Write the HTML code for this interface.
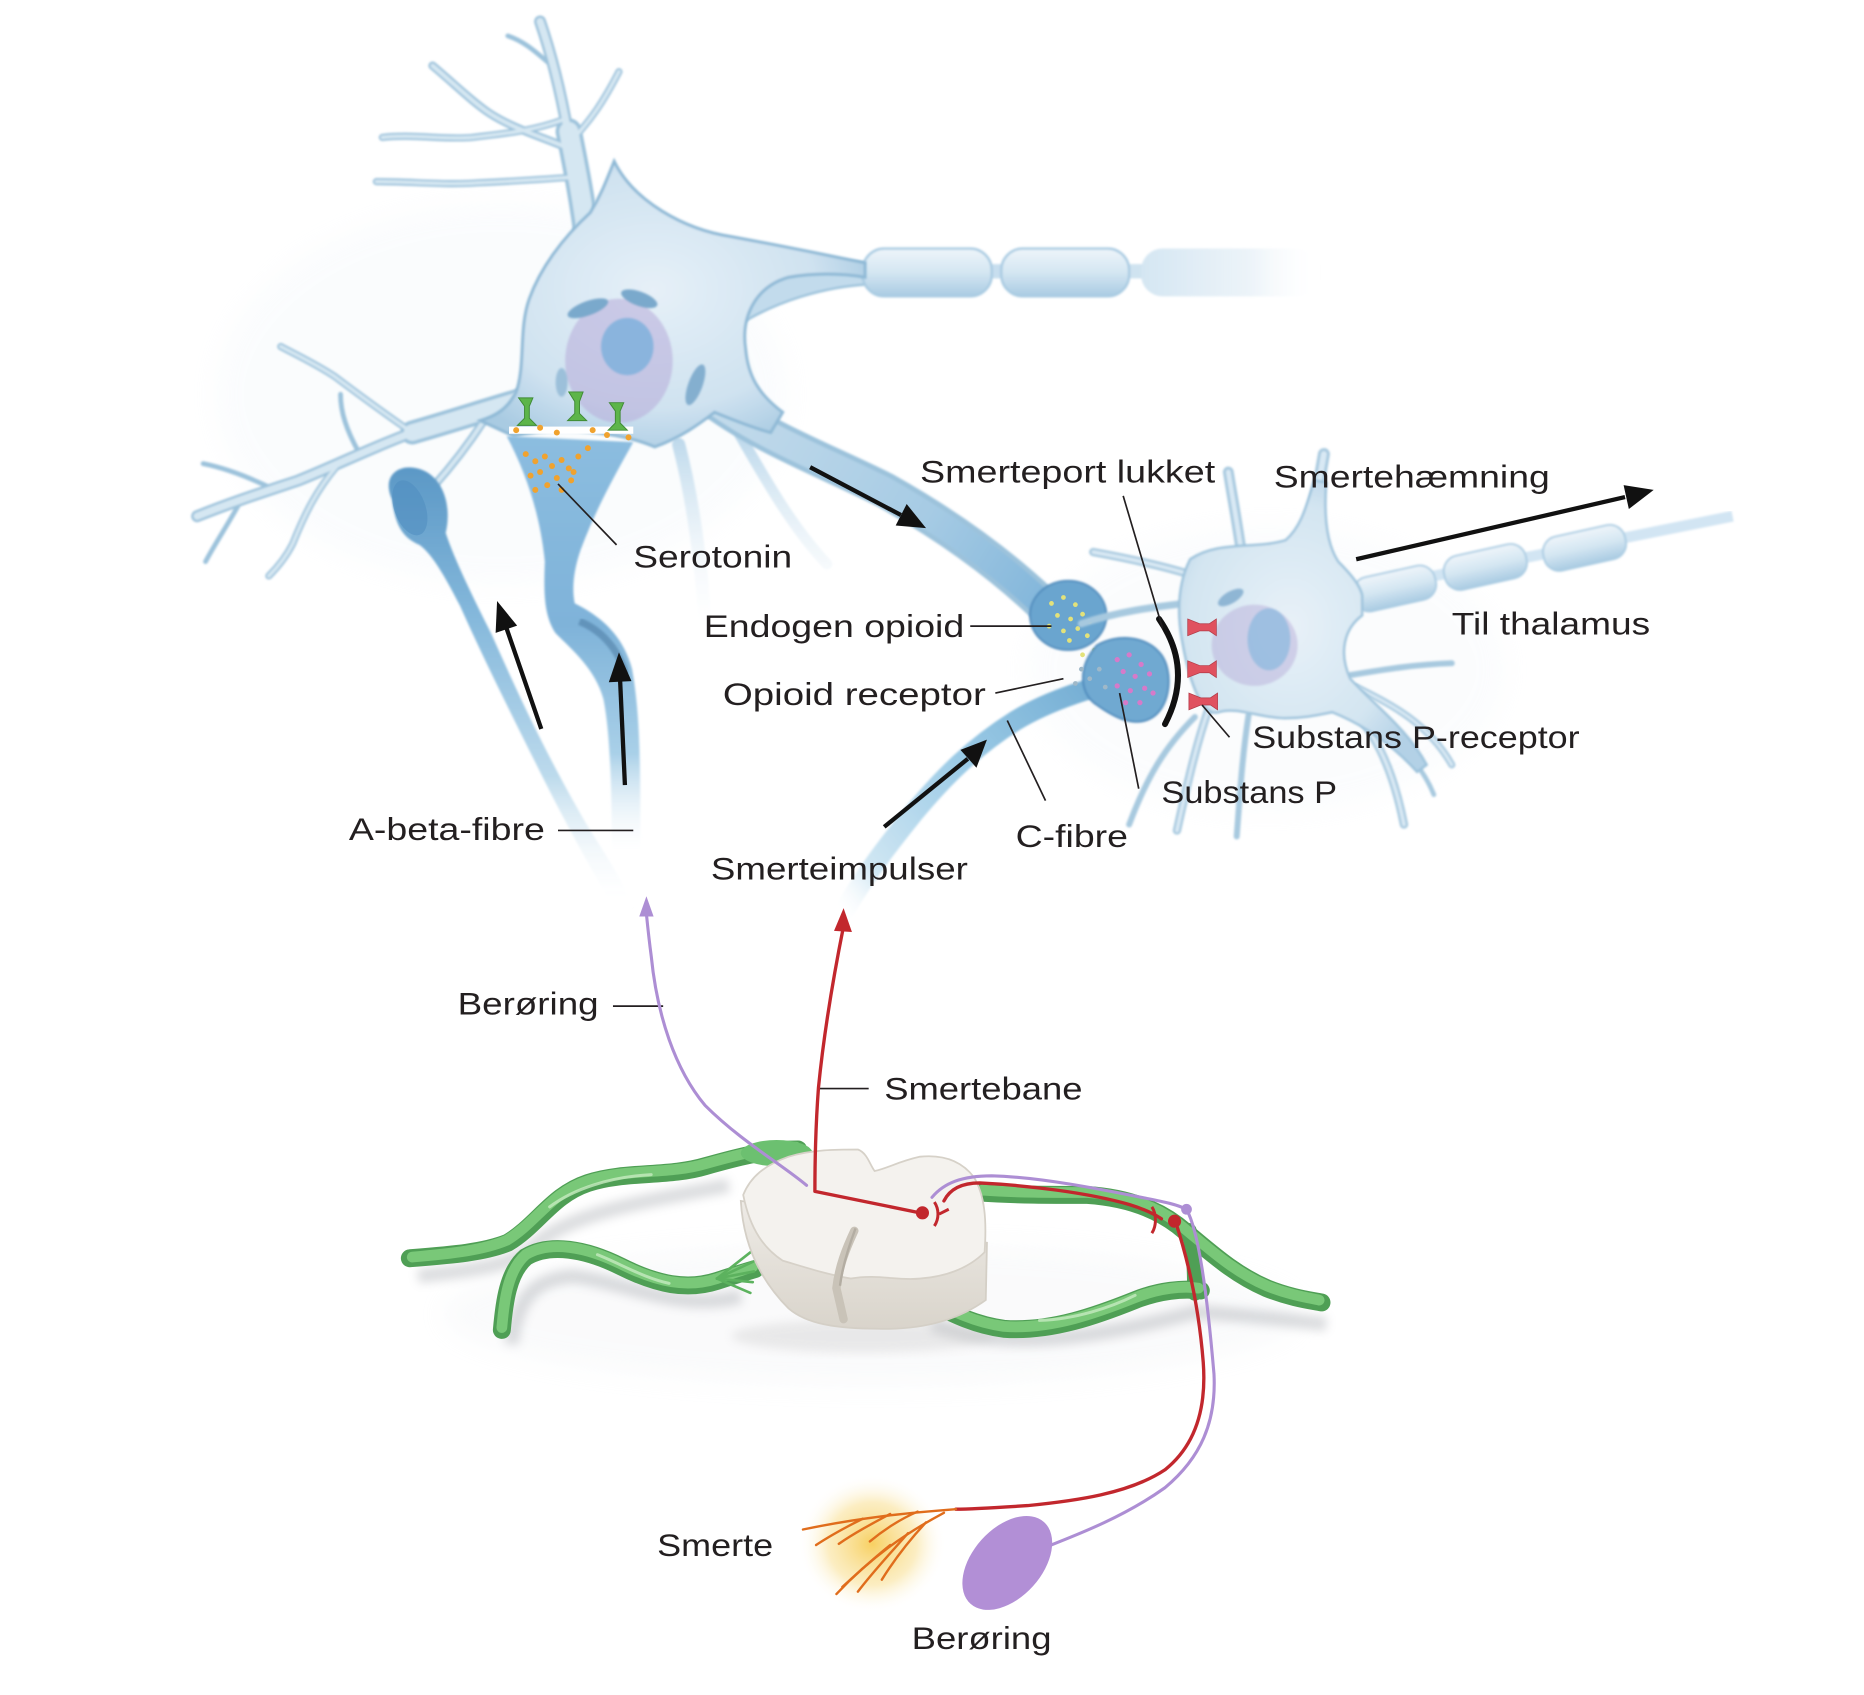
<!DOCTYPE html>
<html><head><meta charset="utf-8">
<style>
html,body{margin:0;padding:0;background:#fff;}
svg{display:block;}
text{font-family:"Liberation Sans",sans-serif;font-size:26px;fill:#231f20;}
</style></head>
<body>
<svg width="1864" height="1695" viewBox="0 0 1560 1418.5" preserveAspectRatio="none" xmlns="http://www.w3.org/2000/svg">
<defs>
  <filter id="soft" x="-5%" y="-5%" width="110%" height="110%"><feGaussianBlur stdDeviation="0.8"/></filter>
  <filter id="blur4" x="-20%" y="-20%" width="140%" height="140%"><feGaussianBlur stdDeviation="4"/></filter>
  <filter id="blur10" x="-50%" y="-50%" width="200%" height="200%"><feGaussianBlur stdDeviation="10"/></filter>
  <radialGradient id="soma1" cx="0.45" cy="0.45" r="0.6">
    <stop offset="0" stop-color="#e6f0f8"/><stop offset="0.7" stop-color="#cfe2f0"/><stop offset="1" stop-color="#a9cbe2"/>
  </radialGradient>
  <radialGradient id="soma2" cx="0.45" cy="0.5" r="0.6">
    <stop offset="0" stop-color="#e8f1f8"/><stop offset="0.7" stop-color="#d3e5f1"/><stop offset="1" stop-color="#b3d1e6"/>
  </radialGradient>
  <linearGradient id="gA" gradientUnits="userSpaceOnUse" x1="0" y1="390" x2="0" y2="760">
    <stop offset="0" stop-color="#5b98c6"/><stop offset="0.35" stop-color="#86b9dc"/><stop offset="0.7" stop-color="#bcdaec"/><stop offset="1" stop-color="#ffffff" stop-opacity="0"/>
  </linearGradient>
  <linearGradient id="gS" gradientUnits="userSpaceOnUse" x1="0" y1="362" x2="0" y2="720">
    <stop offset="0" stop-color="#8cbde0"/><stop offset="0.45" stop-color="#7fb3d9"/><stop offset="0.75" stop-color="#a9d0e8"/><stop offset="1" stop-color="#ffffff" stop-opacity="0"/>
  </linearGradient>
  <linearGradient id="gC" gradientUnits="userSpaceOnUse" x1="950" y1="566" x2="700" y2="765">
    <stop offset="0" stop-color="#6aa6cf"/><stop offset="0.5" stop-color="#9ccbe6"/><stop offset="0.85" stop-color="#cfe6f3"/><stop offset="1" stop-color="#ffffff" stop-opacity="0"/>
  </linearGradient>
  <linearGradient id="gD" gradientUnits="userSpaceOnUse" x1="600" y1="340" x2="880" y2="515">
    <stop offset="0" stop-color="#c3dbeb"/><stop offset="0.6" stop-color="#a6cbe4"/><stop offset="1" stop-color="#7fb4da"/>
  </linearGradient>
  <linearGradient id="myel" x1="0" y1="0" x2="0" y2="1">
    <stop offset="0" stop-color="#eef5fa"/><stop offset="0.5" stop-color="#d4e6f2"/><stop offset="1" stop-color="#a9cbe2"/>
  </linearGradient>
  <linearGradient id="myelFade" x1="0" y1="0" x2="1" y2="0">
    <stop offset="0" stop-color="#d4e6f2"/><stop offset="0.6" stop-color="#e3eef6" stop-opacity="0.7"/><stop offset="1" stop-color="#ffffff" stop-opacity="0"/>
  </linearGradient>
  <linearGradient id="fadeDown" gradientUnits="userSpaceOnUse" x1="0" y1="360" x2="0" y2="540">
    <stop offset="0" stop-color="#b9d6ea"/><stop offset="1" stop-color="#ffffff" stop-opacity="0"/>
  </linearGradient>
  <radialGradient id="glow" cx="0.5" cy="0.5" r="0.5">
    <stop offset="0" stop-color="#f6c847" stop-opacity="0.85"/><stop offset="0.6" stop-color="#f8dc86" stop-opacity="0.5"/><stop offset="1" stop-color="#ffffff" stop-opacity="0"/>
  </radialGradient>
  <linearGradient id="cordSide" x1="0" y1="0" x2="0" y2="1">
    <stop offset="0" stop-color="#eeebe6"/><stop offset="1" stop-color="#d9d4cb"/>
  </linearGradient>
</defs>

<!-- faint haze -->
<g opacity="0.15" filter="url(#blur10)">
  <ellipse cx="420" cy="330" rx="240" ry="160" fill="#e3edf5"/>
  <ellipse cx="1060" cy="560" rx="200" ry="120" fill="#e6eef5"/>
  <ellipse cx="730" cy="1100" rx="360" ry="60" fill="#dfe3e8"/>
</g>

<!-- ============ NEURON 1 ============ -->
<g filter="url(#soft)" stroke-linecap="round" fill="none">
  <g stroke="#9cc2db">
    <path d="M492,205 C488,170 482,140 476,110" stroke-width="22"/>
    <path d="M476,115 C470,80 463,50 452,18" stroke-width="10"/>
    <path d="M478,125 C455,115 430,108 410,95 C395,85 380,70 362,55" stroke-width="7"/>
    <path d="M472,100 C445,110 420,112 395,115 C370,117 345,112 320,115" stroke-width="6"/>
    <path d="M484,148 C455,150 425,152 400,153 C375,155 345,152 315,152" stroke-width="6"/>
    <path d="M478,118 C495,100 505,85 518,60" stroke-width="6"/>
    <path d="M462,55 C450,45 440,35 425,30" stroke-width="4"/>
    <path d="M445,332 C410,342 380,352 345,362" stroke-width="20"/>
    <path d="M345,362 C310,375 280,390 250,402 C220,412 195,420 165,432" stroke-width="10"/>
    <path d="M345,362 C320,345 300,330 280,315 C265,305 250,298 235,290" stroke-width="6"/>
    <path d="M282,390 C265,410 255,430 245,455 C240,465 232,475 225,482" stroke-width="6"/>
    <path d="M230,410 C210,400 190,392 170,388" stroke-width="4"/>
    <path d="M200,422 C190,440 180,455 172,470" stroke-width="4"/>
    <path d="M300,378 C290,360 285,345 285,330" stroke-width="4"/>
    <path d="M405,352 C392,372 378,390 362,408" stroke-width="7"/>
    <path d="M568,372 C578,410 586,460 590,520" stroke-width="11" stroke="url(#fadeDown)"/>
    <path d="M618,362 C640,400 662,440 692,472" stroke-width="9" stroke="url(#fadeDown)"/>
    <path d="M590,330 C635,365 690,385 740,410 C790,438 835,470 872,505" stroke-width="30"/>
  </g>
  <g stroke="#d5e7f2">
    <path d="M492,205 C488,170 482,140 476,110" stroke-width="16"/>
    <path d="M476,115 C470,80 463,50 452,18" stroke-width="6"/>
    <path d="M478,125 C455,115 430,108 410,95 C395,85 380,70 362,55" stroke-width="3.5"/>
    <path d="M472,100 C445,110 420,112 395,115 C370,117 345,112 320,115" stroke-width="3"/>
    <path d="M484,148 C455,150 425,152 400,153 C375,155 345,152 315,152" stroke-width="3"/>
    <path d="M478,118 C495,100 505,85 518,60" stroke-width="3"/>
    <path d="M445,332 C410,342 380,352 345,362" stroke-width="14"/>
    <path d="M345,362 C310,375 280,390 250,402 C220,412 195,420 165,432" stroke-width="6"/>
    <path d="M345,362 C320,345 300,330 280,315 C265,305 250,298 235,290" stroke-width="3"/>
    <path d="M282,390 C265,410 255,430 245,455 C240,465 232,475 225,482" stroke-width="3"/>
    <path d="M405,352 C392,372 378,390 362,408" stroke-width="3.5"/>
    <path d="M590,330 C635,365 690,385 740,410 C790,438 835,470 872,505" stroke-width="22" stroke="url(#gD)"/>
  </g>
</g>

<!-- axon of neuron 1 -->
<g filter="url(#soft)">
  <path d="M600,198 C640,205 690,218 726,220 L726,238 C690,240 650,252 618,272 Z" fill="#c2dbec" stroke="#9cc2db" stroke-width="2"/>
  <rect x="826" y="221" width="16" height="12" fill="#c7deee"/>
  <rect x="722" y="208" width="108" height="40" rx="18" fill="url(#myel)" stroke="#a9cbe2" stroke-width="2"/>
  <rect x="945" y="221" width="14" height="12" fill="#cfe3f0"/>
  <rect x="838" y="208" width="107" height="40" rx="18" fill="url(#myel)" stroke="#a9cbe2" stroke-width="2"/>
  <rect x="955" y="208" width="150" height="40" rx="18" fill="url(#myelFade)"/>
</g>

<!-- soma 1 -->
<path filter="url(#soft)" d="M494,178 C470,200 452,225 443,250 C434,275 440,305 432,328 C425,342 415,348 402,352 L430,365 C470,356 520,362 548,374 C570,366 585,355 598,345 C615,352 630,358 645,362 L655,345 C635,330 626,315 624,292 C620,265 632,240 660,232 C690,227 712,230 724,232 L724,220 C690,213 650,205 612,198 C572,192 530,168 514,135 C506,155 502,165 494,178 Z" fill="url(#soma1)" stroke="#8fb9d6" stroke-width="2.5"/>
<g filter="url(#soft)">
  <ellipse cx="518" cy="302" rx="45" ry="52" fill="#b6acd9" opacity="0.55"/>
  <ellipse cx="525" cy="290" rx="22" ry="24" fill="#7fb2dc" opacity="0.85"/>
  <ellipse cx="492" cy="258" rx="18" ry="6" transform="rotate(-20 492 258)" fill="#7aa9cc"/>
  <ellipse cx="535" cy="250" rx="16" ry="6" transform="rotate(20 535 250)" fill="#7aa9cc"/>
  <ellipse cx="582" cy="322" rx="6" ry="18" transform="rotate(20 582 322)" fill="#84afcf"/>
  <ellipse cx="470" cy="320" rx="5" ry="12" fill="#9cc0da"/>
</g>

<!-- A-beta terminal (club) -->
<path filter="url(#soft)" d="M328,418 C318,395 338,386 355,394 C372,402 378,425 373,446 C381,470 396,500 411,530 C431,575 456,630 491,690 C506,715 521,735 531,762 L514,762 C495,727 475,692 455,652 C430,602 405,552 385,507 C372,482 362,464 351,456 C337,450 331,440 328,418 Z" fill="url(#gA)"/>
<ellipse cx="343" cy="425" rx="13" ry="24" transform="rotate(-20 343 425)" fill="#4e8cbf" opacity="0.55"/>

<!-- serotonin terminal -->
<path filter="url(#soft)" d="M424,365 L530,370 C516,395 499,425 486,460 C479,480 479,495 481,505 C501,515 521,530 529,560 C536,600 536,640 536,712 L512,712 C512,650 510,610 505,585 C498,560 480,545 465,530 C455,515 455,495 456,470 C452,430 440,395 424,365 Z" fill="url(#gS)"/>
<path d="M485,520 C505,528 518,545 524,565" stroke="#3f6e96" stroke-width="6" fill="none" opacity="0.45" filter="url(#soft)"/>
<rect x="426" y="357" width="104" height="6" fill="#ffffff"/>
<g fill="#5db54a" stroke="#3f8a35" stroke-width="0.8">
  <path d="M434,333 L446,333 L443,340 L443,350 L449,356 L433,356 L439,350 L439,340 Z"/>
  <path d="M476,328 L488,328 L485,336 L485,346 L491,352 L475,352 L481,346 L481,336 Z"/>
  <path d="M510,337 L522,337 L519,344 L519,354 L525,360 L509,360 L515,354 L515,344 Z"/>
</g>
<g fill="#f0a22e">
  <circle cx="432" cy="360" r="2.5"/><circle cx="452" cy="358" r="2.5"/><circle cx="466" cy="362" r="2.5"/><circle cx="496" cy="360" r="2.5"/><circle cx="508" cy="364" r="2.5"/><circle cx="526" cy="366" r="2.5"/>
  <circle cx="440" cy="380" r="2.5"/><circle cx="448" cy="386" r="2.5"/><circle cx="456" cy="382" r="2.5"/><circle cx="462" cy="390" r="2.5"/><circle cx="470" cy="385" r="2.5"/><circle cx="476" cy="392" r="2.5"/><circle cx="452" cy="395" r="2.5"/><circle cx="444" cy="398" r="2.5"/><circle cx="466" cy="400" r="2.5"/><circle cx="478" cy="402" r="2.5"/><circle cx="458" cy="406" r="2.5"/><circle cx="470" cy="410" r="2.5"/><circle cx="484" cy="382" r="2.5"/><circle cx="492" cy="375" r="2.5"/><circle cx="448" cy="410" r="2.5"/><circle cx="480" cy="395" r="2.5"/>
</g>

<!-- Endogen opioid terminal -->
<ellipse cx="894" cy="515" rx="32" ry="29" fill="#6ba5cf" stroke="#4d89bb" stroke-width="1.5" filter="url(#soft)"/>
<g fill="#e3e27a">
  <circle cx="880" cy="505" r="2"/><circle cx="890" cy="500" r="2"/><circle cx="900" cy="506" r="2"/><circle cx="885" cy="515" r="2"/><circle cx="896" cy="518" r="2"/><circle cx="906" cy="514" r="2"/><circle cx="878" cy="524" r="2"/><circle cx="890" cy="528" r="2"/><circle cx="902" cy="526" r="2"/><circle cx="912" cy="520" r="2"/><circle cx="895" cy="536" r="2"/><circle cx="910" cy="532" r="2"/><circle cx="916" cy="544" r="2"/><circle cx="924" cy="540" r="2"/><circle cx="906" cy="548" r="2"/><circle cx="918" cy="554" r="2"/>
</g>

<!-- C-fibre -->
<path filter="url(#soft)" d="M950,566 C915,575 880,585 850,603 C815,625 790,650 765,680 C745,705 725,730 705,765" stroke="url(#gC)" stroke-width="17" fill="none" stroke-linecap="round"/>
<path filter="url(#soft)" d="M918,540 C935,530 960,532 972,548 C982,562 980,590 965,600 C950,610 932,600 918,590 C905,582 900,560 918,540 Z" fill="#6fa9d1" stroke="#4d89bb" stroke-width="1.5"/>
<g fill="#d67ac9">
  <circle cx="935" cy="552" r="2.2"/><circle cx="945" cy="548" r="2.2"/><circle cx="955" cy="556" r="2.2"/><circle cx="940" cy="562" r="2.2"/><circle cx="950" cy="566" r="2.2"/><circle cx="962" cy="564" r="2.2"/><circle cx="935" cy="574" r="2.2"/><circle cx="946" cy="578" r="2.2"/><circle cx="958" cy="576" r="2.2"/><circle cx="942" cy="588" r="2.2"/><circle cx="954" cy="588" r="2.2"/><circle cx="965" cy="580" r="2.2"/>
</g>
<g fill="#9fb8c8">
  <circle cx="905" cy="560" r="2"/><circle cx="912" cy="568" r="2"/><circle cx="920" cy="560" r="2"/><circle cx="900" cy="572" r="2"/><circle cx="925" cy="575" r="2"/>
</g>

<!-- ============ NEURON 2 ============ -->
<g filter="url(#soft)" stroke-linecap="round" fill="none">
  <g stroke="#a7c9df">
    <path d="M1040,470 C1036,440 1032,420 1028,395" stroke-width="9"/>
    <path d="M1095,440 C1100,420 1104,405 1108,380" stroke-width="10"/>
    <path d="M1000,482 C975,474 948,468 915,462" stroke-width="7"/>
    <path d="M992,505 C965,508 935,512 905,522" stroke-width="6"/>
    <path d="M1012,592 C1002,620 995,650 985,695" stroke-width="7"/>
    <path d="M1045,598 C1040,630 1038,660 1035,700" stroke-width="5"/>
    <path d="M1120,580 C1150,610 1165,640 1175,690" stroke-width="7"/>
    <path d="M1135,575 C1165,590 1195,605 1215,640" stroke-width="6"/>
    <path d="M1130,565 C1160,560 1185,556 1215,555" stroke-width="5"/>
    <path d="M1150,610 C1170,620 1190,640 1200,665" stroke-width="4"/>
    <path d="M1000,600 C975,625 960,650 945,690" stroke-width="5"/>
  </g>
  <g stroke="#d9e9f4">
    <path d="M1040,470 C1036,440 1032,420 1028,395" stroke-width="4"/>
    <path d="M1095,440 C1100,420 1104,405 1108,380" stroke-width="5"/>
    <path d="M1000,482 C975,474 948,468 915,462" stroke-width="3"/>
    <path d="M1012,592 C1002,620 995,650 985,695" stroke-width="3"/>
    <path d="M1120,580 C1150,610 1165,640 1175,690" stroke-width="3"/>
    <path d="M1135,575 C1165,590 1195,605 1215,640" stroke-width="2.5"/>
  </g>
</g>
<g filter="url(#soft)">
  <path d="M1110,500 L1450,432" stroke="#c7def0" stroke-width="9" fill="none" opacity="0.8"/>
  <g transform="rotate(-12.5 1167 492)"><rect x="1132" y="478" width="70" height="29" rx="13" fill="url(#myel)" stroke="#a9cbe2" stroke-width="1.5"/></g>
  <g transform="rotate(-12.5 1243 474)"><rect x="1208" y="460" width="70" height="29" rx="13" fill="url(#myel)" stroke="#a9cbe2" stroke-width="1.5"/></g>
  <g transform="rotate(-12.5 1326 458)"><rect x="1291" y="444" width="70" height="29" rx="13" fill="url(#myel)" stroke="#a9cbe2" stroke-width="1.5"/></g>
</g>
<path filter="url(#soft)" d="M996,468 C1020,452 1050,460 1076,452 C1090,440 1094,420 1100,402 L1110,404 C1108,430 1110,455 1120,470 C1132,482 1138,490 1140,498 L1140,515 C1125,526 1120,546 1130,568 C1150,590 1178,610 1194,640 L1186,646 C1164,622 1140,606 1115,596 C1100,599 1090,601 1075,601 C1055,601 1035,591 1020,596 C1004,601 994,562 990,540 C985,515 985,490 996,468 Z" fill="url(#soma2)" stroke="#9cc2db" stroke-width="2"/>
<g filter="url(#soft)">
  <ellipse cx="1050" cy="540" rx="36" ry="34" fill="#b9afda" opacity="0.5"/>
  <ellipse cx="1062" cy="535" rx="18" ry="26" fill="#8ab8de" opacity="0.7"/>
  <ellipse cx="1030" cy="500" rx="12" ry="5" fill="#8fb6d4" transform="rotate(-30 1030 500)"/>
</g>
<g fill="#e0515f" stroke="#b23a47" stroke-width="0.6">
  <path d="M994,518 L1004,522 L1012,522 L1018,518 L1018,532 L1012,528 L1004,528 L994,532 Z"/>
  <path d="M994,553 L1004,557 L1012,557 L1018,553 L1018,567 L1012,563 L1004,563 L994,567 Z"/>
  <path d="M995,580 L1005,584 L1013,584 L1019,580 L1019,594 L1013,590 L1005,590 L995,594 Z"/>
</g>
<path d="M970,518 Q999,560 975,606" stroke="#111" stroke-width="5" fill="none" stroke-linecap="round"/>

<!-- ============ BLACK ARROWS ============ -->
<g stroke="#111" stroke-width="3.6" fill="#111" stroke-linecap="butt">
  <line x1="678" y1="391" x2="754" y2="431"/>
  <polygon points="775,442 749.6,439.8 758.8,421.8" stroke="none"/>
  <line x1="453" y1="610" x2="424" y2="526"/>
  <polygon points="416,503 432.8,523.6 414.8,529.6" stroke="none"/>
  <line x1="523" y1="657" x2="519" y2="570"/>
  <polygon points="518,546 528.5,570 509.5,571" stroke="none"/>
  <line x1="740" y1="692" x2="810" y2="635"/>
  <polygon points="826,619 817.2,642.5 803.8,627.5" stroke="none"/>
  <line x1="1135" y1="468" x2="1360" y2="416"/>
  <polygon points="1384,410 1363.2,426 1358.8,406" stroke="none"/>
</g>

<!-- ============ LEADER LINES ============ -->
<g stroke="#231f20" stroke-width="1.4" fill="none">
  <line x1="467" y1="405" x2="516" y2="456"/>
  <line x1="940" y1="415" x2="973" y2="526"/>
  <line x1="812" y1="524" x2="880" y2="524"/>
  <line x1="833" y1="580" x2="890" y2="568"/>
  <line x1="1006" y1="590" x2="1029" y2="617"/>
  <line x1="937" y1="580" x2="953" y2="660"/>
  <line x1="843" y1="603" x2="875" y2="670"/>
  <line x1="467" y1="695" x2="530" y2="695"/>
  <line x1="513" y1="842" x2="555" y2="842"/>
  <line x1="685" y1="911" x2="727" y2="911"/>
</g>

<!-- ============ LOWER: SPINAL CORD ============ -->
<g opacity="0.3" filter="url(#blur4)" fill="none" stroke="#8a8f96" stroke-width="12">
  <path d="M350,1068 C400,1062 430,1060 450,1040 C480,1015 540,1005 610,992"/>
  <path d="M428,1125 C432,1090 445,1070 480,1068 C530,1075 570,1098 620,1085"/>
  <path d="M780,1108 C830,1128 900,1125 1000,1098 C1040,1100 1080,1105 1110,1108"/>
</g>
<ellipse cx="722" cy="1118" rx="110" ry="14" fill="#c9c9c9" opacity="0.35" filter="url(#blur4)"/>

<g stroke-linecap="round" fill="none">
  <g stroke="#4f9f55">
    <path d="M343,1053 C380,1050 405,1048 425,1040 C450,1025 462,1000 492,990 C522,980 560,985 590,976 C615,969 640,962 668,962" stroke-width="15"/>
    <path d="M420,1113 C422,1090 425,1065 440,1052 C460,1040 490,1045 520,1060 C550,1075 575,1080 600,1072 C612,1068 622,1065 632,1062" stroke-width="15"/>
    <path d="M820,998 C850,1000 880,1000 910,1000 C940,1002 965,1010 985,1025 C1010,1045 1030,1065 1060,1078 C1080,1086 1095,1088 1106,1090" stroke-width="15"/>
    <path d="M762,1082 C790,1095 810,1108 840,1112 C880,1115 920,1100 950,1088 C970,1080 990,1078 1005,1080" stroke-width="15"/>
    <path d="M995,1030 C1000,1050 1000,1065 1000,1082" stroke-width="13"/>
  </g>
  <g stroke="#79c878">
    <path d="M345,1052 C380,1049 405,1046 424,1038 C449,1023 461,998 492,988 C522,978 560,983 590,974 C615,967 640,960 666,960" stroke-width="9"/>
    <path d="M420,1111 C422,1088 425,1063 440,1050 C460,1038 490,1043 520,1058 C550,1073 575,1078 600,1070 C612,1066 622,1063 630,1060" stroke-width="9"/>
    <path d="M822,996 C850,998 880,998 910,998 C940,1000 965,1008 985,1023 C1010,1043 1030,1063 1060,1076 C1080,1084 1095,1086 1104,1088" stroke-width="9"/>
    <path d="M764,1080 C790,1093 810,1106 840,1110 C880,1113 920,1098 950,1086 C970,1078 990,1076 1003,1078" stroke-width="9"/>
  </g>
  <g stroke="#c6ebc0" stroke-width="2.5" opacity="0.8">
    <path d="M460,1010 C480,995 510,985 545,983"/>
    <path d="M500,1050 C520,1058 540,1070 560,1074"/>
    <path d="M870,1105 C900,1104 930,1094 950,1084"/>
  </g>
  <g stroke="#5cb25e" stroke-width="2.2">
    <path d="M600,1070 L628,1048"/><path d="M600,1070 L630,1056"/><path d="M600,1070 L631,1064"/><path d="M600,1070 L630,1073"/><path d="M600,1070 L628,1082"/>
    <path d="M790,1092 L762,1070"/><path d="M790,1092 L760,1078"/><path d="M790,1092 L759,1087"/><path d="M790,1092 L760,1096"/><path d="M790,1092 L763,1104"/>
  </g>
</g>
<ellipse cx="650" cy="965" rx="30" ry="11" fill="#6cc070"/>

<path d="M620,1005 C622,1040 635,1070 660,1095 C675,1108 700,1112 735,1112 C770,1113 800,1106 825,1088 L826,1040 Z" fill="url(#cordSide)" stroke="#d4cfc6" stroke-width="1.5"/>
<path d="M622,1000 C628,985 640,975 660,968 C680,962 700,962 718,962 C726,965 728,975 732,980 C742,978 752,972 770,968 C790,966 805,972 815,985 C824,1000 826,1020 824,1048 C812,1060 795,1068 770,1070 C750,1072 735,1066 712,1070 C690,1066 672,1060 655,1055 C640,1045 628,1030 622,1000 Z" fill="#f4f2ee" stroke="#d6d1c8" stroke-width="1.5"/>
<path d="M715,1030 C708,1045 702,1060 700,1078 L706,1104" stroke="#c9c3b8" stroke-width="7" fill="none" stroke-linecap="round"/>
<path d="M716,1028 C710,1044 705,1060 703,1076" stroke="#b3ada2" stroke-width="2" fill="none"/>

<g fill="none" stroke-linecap="round" stroke-linejoin="round">
  <path d="M675,992 C655,975 620,955 590,925 C565,895 550,850 545,800 C543,785 542,775 541,765" stroke="#ad8ed4" stroke-width="2.6"/>
  <path d="M780,1002 C790,990 805,984 830,984 C870,985 920,995 960,1003 C975,1006 985,1008 993,1012 C1003,1030 1010,1080 1016,1150 C1018,1190 1005,1220 975,1245 C940,1270 900,1285 872,1296" stroke="#ad8ed4" stroke-width="2.6"/>
  <path d="M706,775 C699,810 690,860 685,910 C682,950 682,980 682,997 L770,1015" stroke="#c2272d" stroke-width="2.8"/>
  <path d="M790,1005 C795,995 805,990 820,990 C860,992 910,998 945,1008 C958,1012 966,1016 972,1020" stroke="#c2272d" stroke-width="2.8"/>
  <path d="M983,1020 C993,1050 1003,1090 1007,1140 C1010,1180 1000,1210 975,1230 C945,1250 900,1256 860,1260 C830,1262 810,1263 800,1263" stroke="#c2272d" stroke-width="2.8"/>
</g>
<polygon points="541,750 535,767 547,767" fill="#ad8ed4"/>
<polygon points="706,760 698,779 713,780" fill="#c2272d"/>
<circle cx="772" cy="1015" r="5.5" fill="#c2272d"/>
<path d="M782,1006 C786,1012 786,1020 782,1026 M786,1016 L794,1012" stroke="#c2272d" stroke-width="2.5" fill="none"/>
<path d="M964,1010 C968,1016 968,1026 964,1032" stroke="#c2272d" stroke-width="2.5" fill="none"/>
<circle cx="983" cy="1022" r="5.5" fill="#c2272d"/>
<circle cx="993" cy="1012" r="4.5" fill="#ad8ed4"/>

<ellipse cx="730" cy="1292" rx="62" ry="58" fill="url(#glow)"/>
<g stroke="#e06d1c" stroke-width="2" fill="none" stroke-linecap="round">
  <path d="M800,1263 C760,1266 720,1270 672,1280"/>
  <path d="M745,1267 C730,1275 715,1283 702,1292"/>
  <path d="M722,1271 C708,1278 695,1285 683,1293"/>
  <path d="M768,1265 C752,1272 740,1280 728,1290"/>
  <path d="M790,1266 C760,1282 730,1302 700,1334"/>
  <path d="M760,1283 C745,1300 730,1316 718,1332"/>
  <path d="M745,1293 C730,1305 716,1318 705,1328"/>
  <path d="M775,1274 C760,1290 748,1306 738,1322"/>
</g>
<ellipse cx="843" cy="1308" rx="46" ry="29" transform="rotate(-48 843 1308)" fill="#b28fd6"/>

<!-- ============ TEXT ============ -->
<text x="530" y="475" textLength="133" lengthAdjust="spacingAndGlyphs">Serotonin</text>
<text x="770" y="404" textLength="247" lengthAdjust="spacingAndGlyphs">Smerteport lukket</text>
<text x="1066" y="408" textLength="231" lengthAdjust="spacingAndGlyphs">Smertehæmning</text>
<text x="589" y="533" textLength="218" lengthAdjust="spacingAndGlyphs">Endogen opioid</text>
<text x="1215" y="531" textLength="166" lengthAdjust="spacingAndGlyphs">Til thalamus</text>
<text x="605" y="590" textLength="220" lengthAdjust="spacingAndGlyphs">Opioid receptor</text>
<text x="1048" y="626" textLength="274" lengthAdjust="spacingAndGlyphs">Substans P-receptor</text>
<text x="972" y="672" textLength="147" lengthAdjust="spacingAndGlyphs">Substans P</text>
<text x="292" y="703" textLength="164" lengthAdjust="spacingAndGlyphs">A-beta-fibre</text>
<text x="850" y="709" textLength="94" lengthAdjust="spacingAndGlyphs">C-fibre</text>
<text x="595" y="736" textLength="215" lengthAdjust="spacingAndGlyphs">Smerteimpulser</text>
<text x="383" y="849" textLength="118" lengthAdjust="spacingAndGlyphs">Berøring</text>
<text x="740" y="920" textLength="166" lengthAdjust="spacingAndGlyphs">Smertebane</text>
<text x="550" y="1302" textLength="97" lengthAdjust="spacingAndGlyphs">Smerte</text>
<text x="763" y="1380" textLength="117" lengthAdjust="spacingAndGlyphs">Berøring</text>
</svg>
</body></html>
